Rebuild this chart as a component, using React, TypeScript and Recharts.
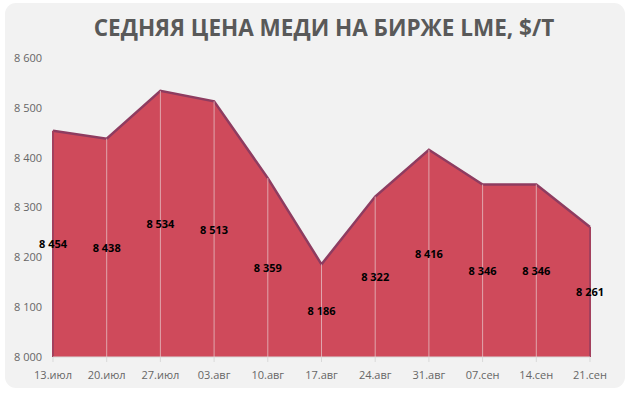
import React from 'react';
import {
  AreaChart,
  Area,
  XAxis,
  YAxis,
  LabelList,
  ReferenceLine,
} from 'recharts';

// Weekly average LME copper price, $/t
const dates = [
  '13.июл', '20.июл', '27.июл', '03.авг', '10.авг', '17.авг',
  '24.авг', '31.авг', '07.сен', '14.сен', '21.сен',
];
const prices = [8454, 8438, 8534, 8513, 8359, 8186, 8322, 8416, 8346, 8346, 8261];
const yTicks = [8000, 8100, 8200, 8300, 8400, 8500, 8600];

const data = dates.map((date, i) => ({ date, price: prices[i] }));

const W = 632;
const H = 396;
const MARGIN = { top: 58, right: 42, left: 8, bottom: 9 };
const X_AXIS_H = 30;
const PLOT_BOTTOM = H - MARGIN.bottom - X_AXIS_H;

const FONT = '"Open Sans", Calibri, sans-serif';

const fmt = (v: number) => String(v).replace(/\B(?=(\d{3})+(?!\d))/g, ' ');

// Excel puts area labels halfway between the point and the baseline
const MidLabel = (props: any) => {
  const { x, y, value } = props;
  return (
    <text
      x={x}
      y={(y + PLOT_BOTTOM) / 2}
      textAnchor="middle"
      dominantBaseline="central"
      fontFamily={FONT}
      fontSize={11}
      fontWeight={700}
      fill="#000"
    >
      {fmt(value)}
    </text>
  );
};

export default function App() {
  return (
    <div style={{ position: 'absolute', left: 0, top: 0, width: W, height: H, background: '#fff' }}>
      <div
        style={{
          position: 'absolute',
          left: 5,
          top: 3,
          width: 620,
          height: 385,
          borderRadius: 11,
          background: '#f2f2f2',
        }}
      />
      <div
        style={{
          position: 'absolute',
          left: 0,
          top: 12,
          width: 648,
          textAlign: 'center',
          fontFamily: FONT,
          fontWeight: 700,
          fontSize: 22.5,
          lineHeight: '32px',
          color: '#595959',
        }}
      >
        СЕДНЯЯ ЦЕНА МЕДИ НА БИРЖЕ LME, $/T
      </div>
      <div style={{ position: 'absolute', left: 0, top: 0 }}>
        <AreaChart width={W} height={H} data={data} margin={MARGIN}>
          <XAxis
            dataKey="date"
            height={X_AXIS_H}
            interval={0}
            tickSize={5}
            tickMargin={9}
            tickLine={{ stroke: '#d9d9d9' }}
            axisLine={{ stroke: '#d9d9d9' }}
            tick={{ fontFamily: FONT, fontSize: 11, fill: '#666' }}
          />
          <YAxis
            width={45}
            domain={[8000, 8600]}
            ticks={yTicks}
            tickFormatter={fmt}
            tickSize={0}
            tickMargin={11}
            axisLine={false}
            tickLine={false}
            tick={{ fontFamily: FONT, fontSize: 11, fill: '#666' }}
          />
          <Area
            type="linear"
            dataKey="price"
            stroke="#8e3c60"
            strokeWidth={2.5}
            fill="#cf4a5b"
            fillOpacity={1}
            isAnimationActive={false}
          >
            <LabelList dataKey="price" content={<MidLabel />} />
          </Area>
          {data.map((d, i) => (
            <ReferenceLine
              key={d.date}
              segment={[
                { x: d.date, y: d.price },
                { x: d.date, y: 8000 },
              ]}
              stroke={i === 0 || i === data.length - 1 ? '#a3405d' : '#e0a5ad'}
              strokeWidth={i === 0 || i === data.length - 1 ? 2 : 1}
            />
          ))}
        </AreaChart>
      </div>
    </div>
  );
}
